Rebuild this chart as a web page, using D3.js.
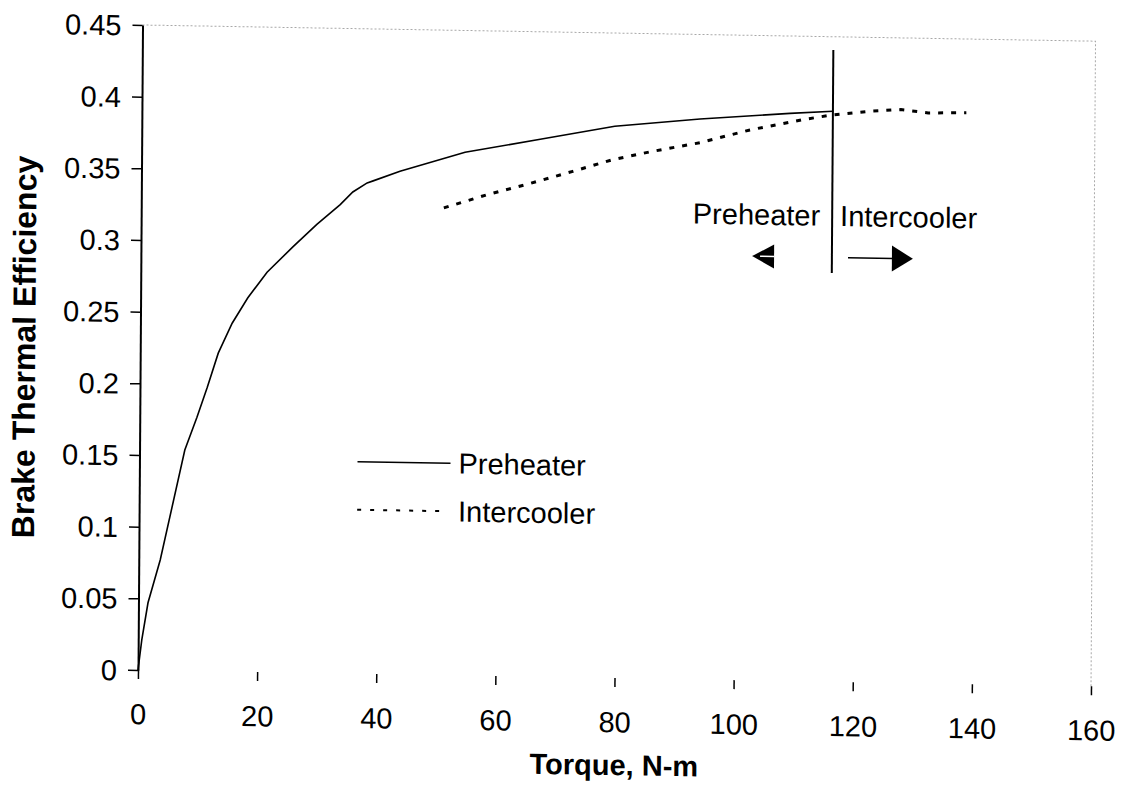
<!DOCTYPE html>
<html>
<head>
<meta charset="utf-8">
<script src="https://cdn.jsdelivr.net/npm/d3@7"></script>
<style>
   body { margin: 0; background: #fff; }
   text { font-family: "Liberation Sans", Arial, sans-serif; fill: #000; }
</style>
</head>
<body>
<script>
// values
var preTorque = [0, 0.6, 1.6, 3.6, 7.6, 9.6, 11.3, 13.1, 15.4, 18.0, 21.2, 25.5, 29.5, 33.4, 35.5, 37.9, 38.9, 43.4, 54.3, 66.9, 79.4, 93.7, 108.8, 116];
var preEff = [0, 0.021, 0.047, 0.077, 0.154, 0.177, 0.198, 0.222, 0.243, 0.261, 0.279, 0.297, 0.313, 0.327, 0.336, 0.3425, 0.344, 0.351, 0.365, 0.375, 0.385, 0.391, 0.396, 0.398];
var interTorque = [50.8, 57.9, 65.2, 72.4, 79.0, 85.3, 93.7, 102.1, 111.2, 116, 122.7, 127.4, 132, 138.4];
var interEff = [0.326, 0.3355, 0.344, 0.353, 0.3615, 0.3675, 0.3745, 0.384, 0.392, 0.3955, 0.3987, 0.400, 0.398, 0.3985];
var xTicks = [0, 20, 40, 60, 80, 100, 120, 140, 160];
var yTicks = [0, 0.05, 0.1, 0.15, 0.2, 0.25, 0.3, 0.35, 0.4, 0.45];
var yTickLabels = ["0", "0.05", "0.1", "0.15", "0.2", "0.25", "0.3", "0.35", "0.4", "0.45"];
var seriesNames = ["Preheater", "Intercooler"];
var splitTorque = 116;

var W = 953, H = 645;
var fs = 29;

var svg = d3.select("body")
   .append("svg")
   .attr("width", 1124)
   .attr("height", 795);

// the scan is slightly skewed, so the whole chart is too
var g = svg.append("g")
   .attr("transform", "translate(138,670) matrix(1,0.017,-0.007,1,0,0) translate(0," + (-H) + ")");

var x = d3.scaleLinear().domain([0, 160]).range([0, W]);
var y = d3.scaleLinear().domain([0, 0.45]).range([H, 0]);

// faint plot border (top and right)
g.append("path")
   .attr("d", "M" + x(0) + "," + y(0.45) + "H" + x(160) + "V" + y(0))
   .style("fill", "none")
   .style("stroke", "#a8a8a8")
   .style("stroke-width", 1)
   .style("stroke-dasharray", "2,2");

var yAxis = g.append("g")
   .call(d3.axisLeft(y).tickValues(yTicks).tickSize(10).tickSizeOuter(0)
      .tickFormat(function(d, i) { return yTickLabels[i]; }));
yAxis.select(".domain").style("stroke-width", 2);
yAxis.selectAll(".tick line").style("stroke-width", 1.5);
yAxis.selectAll(".tick text")
   .attr("x", -21)
   .attr("dy", "0.35em")
   .style("font-size", fs + "px")
   .style("font-family", "Liberation Sans, Arial, sans-serif");

var xAxis = g.append("g")
   .attr("transform", "translate(0," + H + ")")
   .call(d3.axisBottom(x).tickValues(xTicks).tickSize(9).tickSizeOuter(0));
xAxis.select(".domain").remove();
xAxis.selectAll(".tick line").style("stroke-width", 1.5);
xAxis.selectAll(".tick text")
   .attr("y", 44)
   .attr("dy", "0.35em")
   .style("font-size", fs + "px")
   .style("font-family", "Liberation Sans, Arial, sans-serif");

var line = d3.line()
   .x(function(d) { return x(d[0]) })
   .y(function(d) { return y(d[1]) });

var preData = preTorque.map(function(t, i) { return [t, preEff[i]] });
var interData = interTorque.map(function(t, i) { return [t, interEff[i]] });

g.append("path")
   .datum(preData)
   .attr("d", line)
   .style("fill", "none")
   .style("stroke", "#000")
   .style("stroke-width", 1.6);

g.append("path")
   .datum(interData)
   .attr("d", line)
   .style("fill", "none")
   .style("stroke", "#000")
   .style("stroke-width", 3)
   .style("stroke-dasharray", "5,8");

// split line and the two labels with arrows
g.append("line")
   .attr("x1", x(splitTorque)).attr("x2", x(splitTorque))
   .attr("y1", y(0.4407)).attr("y2", y(0.2852))
   .style("stroke", "#000")
   .style("stroke-width", 2);

g.append("text")
   .attr("x", x(splitTorque) - 12)
   .attr("y", y(0.318))
   .attr("text-anchor", "end")
   .style("font-size", fs + "px")
   .text(seriesNames[0]);

g.append("text")
   .attr("x", x(splitTorque) + 8)
   .attr("y", y(0.318))
   .style("font-size", fs + "px")
   .text(seriesNames[1]);

var ay = y(0.296);
var lx = x(102.6);
g.append("path")
   .attr("d", "M" + lx + "," + ay + "L" + (lx + 22) + "," + (ay - 12) + "L" + (lx + 22) + "," + (ay + 12) + "Z")
   .style("fill", "#000");
g.append("line")
   .attr("x1", lx + 8).attr("x2", lx + 22)
   .attr("y1", ay).attr("y2", ay)
   .style("stroke", "#fff")
   .style("stroke-width", 1.5);

var rx0 = x(118.7), rx1 = x(129.6);
g.append("line")
   .attr("x1", rx0).attr("x2", rx1 - 20)
   .attr("y1", ay).attr("y2", ay)
   .style("stroke", "#000")
   .style("stroke-width", 1.5);
g.append("path")
   .attr("d", "M" + rx1 + "," + ay + "L" + (rx1 - 21) + "," + (ay - 13) + "L" + (rx1 - 21) + "," + (ay + 13) + "Z")
   .style("fill", "#000");

// legend
var legend = g.append("g")
   .attr("transform", "translate(218,433)");

legend.append("line")
   .attr("x1", 0).attr("x2", 93)
   .attr("y1", 0).attr("y2", 0)
   .style("stroke", "#000")
   .style("stroke-width", 1.6);
legend.append("text")
   .attr("x", 101).attr("y", 0)
   .attr("dy", "0.35em")
   .style("font-size", fs + "px")
   .text(seriesNames[0]);

legend.append("line")
   .attr("x1", 0).attr("x2", 84)
   .attr("y1", 48).attr("y2", 48)
   .style("stroke", "#000")
   .style("stroke-width", 2)
   .style("stroke-dasharray", "4,9");
legend.append("text")
   .attr("x", 101).attr("y", 48)
   .attr("dy", "0.35em")
   .style("font-size", fs + "px")
   .text(seriesNames[1]);

// axis titles
g.append("text")
   .attr("x", W / 2)
   .attr("y", H + 97)
   .attr("text-anchor", "middle")
   .style("font-size", "29px")
   .style("font-weight", "bold")
   .text("Torque, N-m");

g.append("text")
   .attr("transform", "translate(-105," + (H - 321) + ") rotate(-90)")
   .attr("text-anchor", "middle")
   .style("font-size", "32px")
   .style("font-weight", "bold")
   .text("Brake Thermal Efficiency");
</script>
</body>
</html>
